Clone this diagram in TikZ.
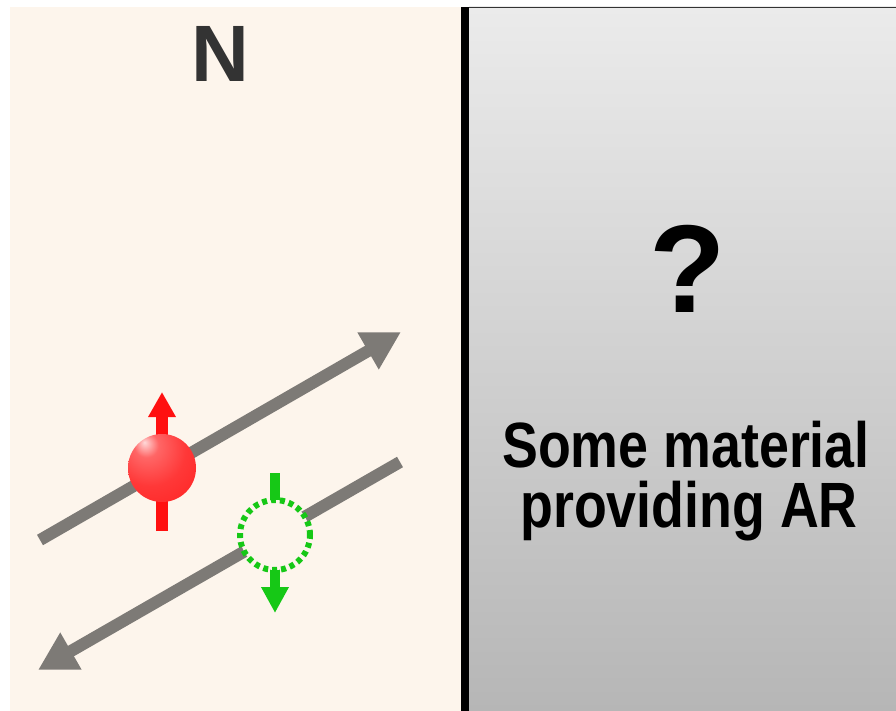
\documentclass[tikz,border=0pt]{standalone}
\usepackage{fontspec}
\setmainfont{Liberation Sans}
\usepackage{graphicx}
\usetikzlibrary{arrows.meta}

\definecolor{paper}{RGB}{253,245,236}
\definecolor{trackgray}{RGB}{125,122,118}
\definecolor{spingreen}{RGB}{22,200,22}
\definecolor{spinred}{RGB}{255,16,16}
\definecolor{inkgray}{RGB}{51,51,51}
\pgfdeclareradialshading{redball}{\pgfpoint{-13bp}{19bp}}{%
  color(0bp)=(red!15!white); color(9bp)=(red!60!white);
  color(26bp)=(red!78!white); color(50bp)=(red!88!white);
  color(62bp)=(red!92!black); color(80bp)=(red!85!black)}

\begin{document}
\begin{tikzpicture}[x=1pt,y=-1pt,
    trackline/.style={line width=12pt, trackgray, -{Triangle[length=38pt,width=40pt]}},
    bigtext/.style={anchor=base, inner sep=0pt}]
        \useasboundingbox (0,0) rectangle (896,711);
        \fill[white] (0,0) rectangle (896,711);

        % Normal metal side
        \fill[paper] (10,7) rectangle (461,711);
        \node[bigtext, text=inkgray, font=\fontsize{80}{80}\selectfont\bfseries] (metal) at (220,82) {N};

        % Unknown side
        \shade[top color={rgb,255:red,235;green,235;blue,235}, bottom color={rgb,255:red,182;green,182;blue,182}] (469,7) rectangle (896,711);
        \draw[gray!40!black, line width=1.2pt] (468,7.6) -- (896,7.6);
        \fill[black] (461,7) rectangle (469,711);
        \node[bigtext, font=\fontsize{125}{125}\selectfont\bfseries] (query) at (688,312) {?};
        \node[bigtext, font=\fontsize{64}{60}\selectfont\bfseries] (line1) at (686,467) {\scalebox{0.84}[1]{Some material}};
        \node[bigtext, font=\fontsize{64}{60}\selectfont\bfseries] (line2) at (689,527) {\scalebox{0.84}[1]{providing AR}};

        % Incoming electron and reflected hole
        \coordinate (inStart) at (40,540);
        \coordinate (inEnd) at (401,332);
        \coordinate (outStart) at (400,462);
        \coordinate (outEnd) at (38,670);
        \draw[trackline] (inStart) -- (inEnd);
        \draw[trackline] (outStart) -- (outEnd);

        % Spin up electron
        \coordinate (upTail) at (162,531);
        \coordinate (upTip) at (162,392);
        \draw[line width=12pt, spinred, -{Triangle[length=25pt,width=26pt]}] (upTail) -- (upTip);
        \node[circle, inner sep=0pt, minimum size=68pt, shading=redball] (electron) at (162,468) {};

        % Spin down hole
        \coordinate (downTail) at (275,473);
        \coordinate (downTip) at (275,613);
        \draw[line width=10pt, spingreen, -{Triangle[length=26pt,width=26pt]}] (downTail) -- (downTip);
        \node[circle, inner sep=0pt, minimum size=70pt, fill=paper, draw=spingreen, line width=6pt, dash pattern=on 5pt off 4pt] (hole) at (275,535) {};
    \end{tikzpicture}
\end{document}
